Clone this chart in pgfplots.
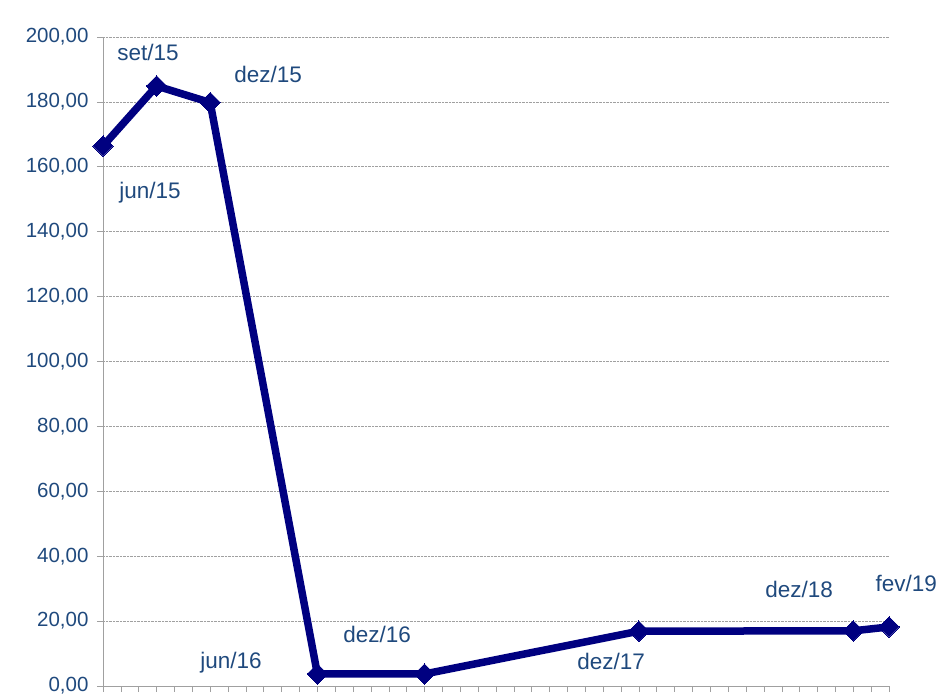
\documentclass[border=0pt]{standalone}
\usepackage{pgfplots}
\pgfplotsset{compat=1.18}
\usepackage{fontspec}
\setmainfont{Liberation Sans}
\definecolor{txtblue}{RGB}{31,73,125}
\definecolor{navyline}{RGB}{0,0,128}
\definecolor{axgray}{RGB}{160,160,160}
\begin{document}
\begin{tikzpicture}[x=1pt,y=1pt]
\begin{axis}[
  at={(0,0)}, anchor=origin,
  scale only axis, width=786pt, height=649pt,
  xmin=0, xmax=44, ymin=0, ymax=200,
  axis lines=left, axis line style={-, draw=axgray, line width=0.8pt},
  xtick={0,1,...,44}, xticklabels={},
  ytick={0,20,...,200},
  tick align=outside, major tick length=6pt,
  tick style={draw=axgray, line width=0.6pt},
  ymajorgrids, grid style={densely dotted, draw=axgray, line width=0.6pt},
  yticklabel style={font=\fontsize{20.5}{24}\selectfont, text=txtblue, xshift=-5pt},
  /pgf/number format/.cd, fixed, fixed zerofill, precision=2, use comma, 1000 sep={}, assume math mode=true,
  /pgfplots/.cd,
  clip=false,
]
\addplot[navyline, line width=7.5pt, line join=miter, mark=square*, mark size=7.2pt,
  mark options={rotate=45, fill=navyline, draw=navyline, line width=0pt}]
  coordinates {(0,166.4) (3,184.9) (6,179.8) (12,3.7) (18,3.7) (30,16.9) (42,17.0) (44,18.2)};
\begin{scope}[every node/.style={font=\fontsize{22.5}{26}\selectfont, text=txtblue}]
\node at (axis cs:2.63,151.9) {jun/15};
\node at (axis cs:2.52,195.1) {set/15};
\node at (axis cs:9.24,188.6) {dez/15};
\node at (axis cs:7.17,7.1) {jun/16};
\node at (axis cs:15.34,16.0) {dez/16};
\node at (axis cs:28.44,7.7) {dez/17};
\node at (axis cs:38.97,29.6) {dez/18};
\node at (axis cs:44.96,31.7) {fev/19};
\end{scope}
\end{axis}
\pgfresetboundingbox
\path (-103,-9) rectangle (838,686);
\end{tikzpicture}
\end{document}
